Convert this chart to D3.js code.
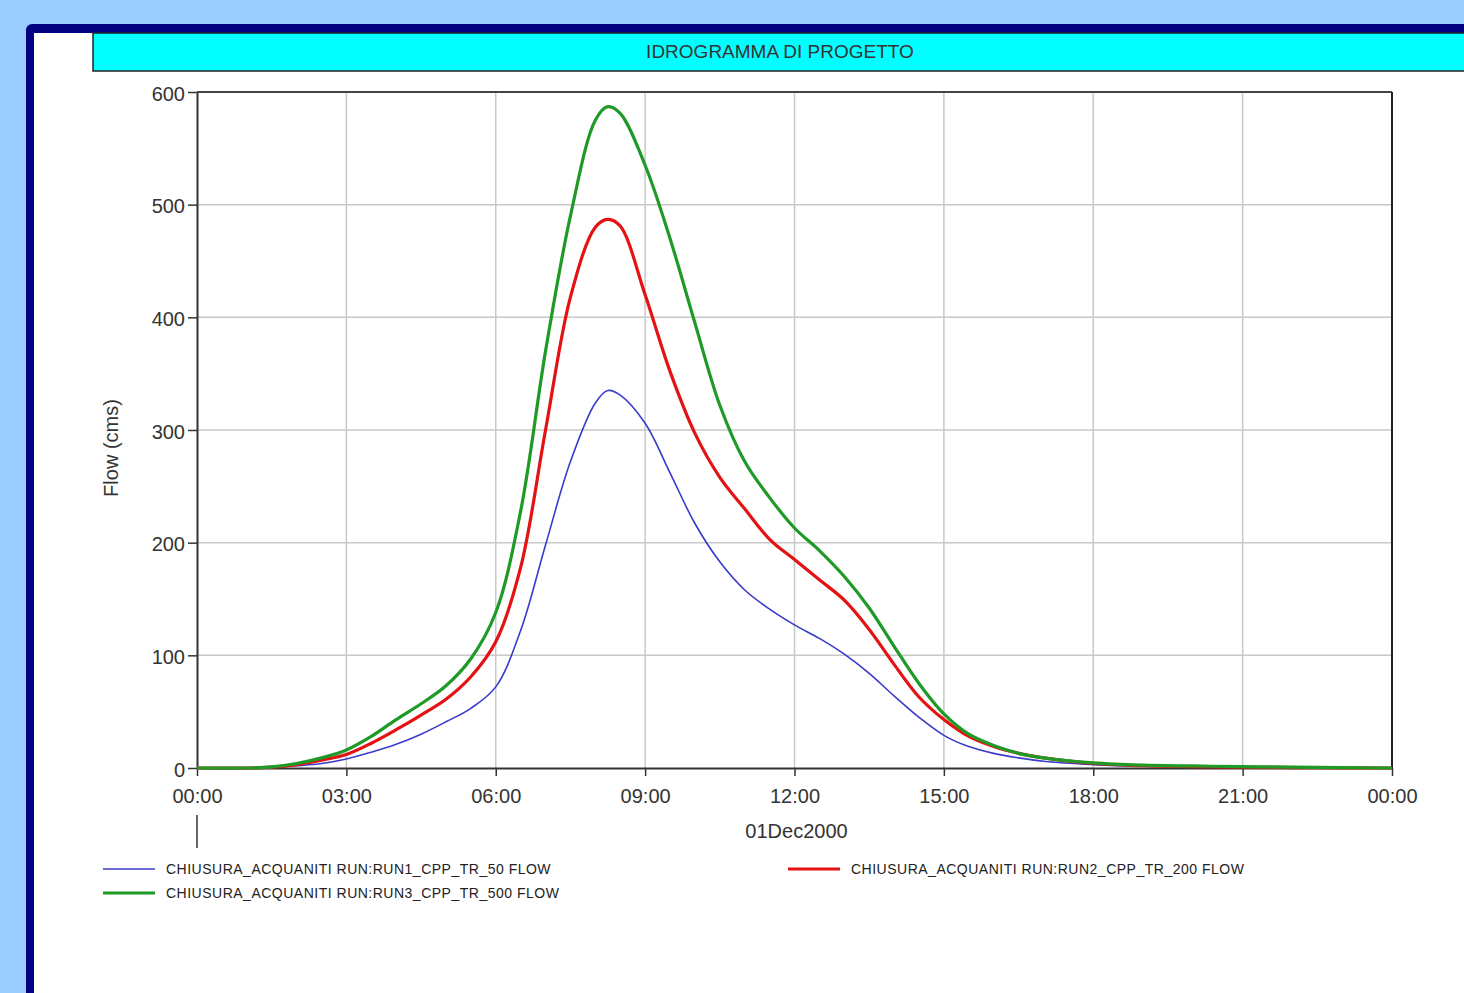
<!DOCTYPE html>
<html>
<head>
<meta charset="utf-8">
<script src="https://cdn.jsdelivr.net/npm/d3@7"></script>
<style>
  html, body { margin: 0; padding: 0; background: #99ccff; }
  svg { display: block; }
  text { font-family: "Liberation Sans", Arial, sans-serif; fill: #333; }
  .tick text { font-size: 20px; }
  .legend text { font-size: 14px; fill: #222; letter-spacing: 0.5px; }
</style>
</head>
<body>
<svg id="chart"></svg>
<script>
// hours since 01Dec2000 00:00
const hours = [0, 1, 1.5, 2, 2.5, 3, 3.5, 4, 4.5, 5, 5.5, 6, 6.5, 7, 7.5, 8, 8.25, 8.5, 9, 9.5,
  10, 10.5, 11, 11.5, 12, 12.5, 13, 13.5, 14, 14.5, 15, 15.5, 16, 16.5, 17, 18, 19, 20, 21, 22, 23, 24];

const run1 = [0, 0, 0.5, 2, 4, 8, 14, 21, 30, 41, 53, 72, 122, 198, 272, 324, 335, 331, 306, 262,
  217, 183, 158, 141, 127, 115, 101, 84, 64, 45, 29, 19, 13, 9, 6, 3, 1.5, 1, 0.6, 0.3, 0.1, 0];

const run2 = [0, 0, 0.8, 3, 7, 12, 22, 34, 47, 61, 81, 112, 178, 300, 418, 480, 487, 481, 420, 352,
  297, 258, 230, 203, 185, 167, 149, 123, 92, 63, 43, 28, 19, 13, 9, 4, 2, 1.2, 0.7, 0.4, 0.2, 0];

const run3 = [0, 0, 1, 4, 9, 16, 28, 43, 57, 73, 97, 138, 228, 370, 490, 575, 587, 581, 535, 470,
  395, 322, 272, 240, 213, 193, 170, 142, 108, 75, 48, 30, 20, 13, 9, 4.5, 2.5, 1.8, 1.2, 0.8, 0.4, 0];

const seriesNames = [
  "CHIUSURA_ACQUANITI RUN:RUN1_CPP_TR_50 FLOW",
  "CHIUSURA_ACQUANITI RUN:RUN2_CPP_TR_200 FLOW",
  "CHIUSURA_ACQUANITI RUN:RUN3_CPP_TR_500 FLOW"
];
const yTicks = [0, 100, 200, 300, 400, 500, 600];
const xTickHours = [0, 3, 6, 9, 12, 15, 18, 21, 24];

const W = 1464, H = 993;
const svg = d3.select("#chart").attr("width", W).attr("height", H);

// blue page background + navy frame + white panel
svg.append("rect").attr("width", W).attr("height", H).attr("fill", "#99ccff");
svg.append("rect").attr("x", 26).attr("y", 24).attr("width", W).attr("height", H)
  .attr("rx", 6).attr("fill", "#000080");
svg.append("rect").attr("x", 34).attr("y", 33).attr("width", W).attr("height", H)
  .attr("fill", "#fff");

// title bar
svg.append("rect").attr("x", 93).attr("y", 33).attr("width", W).attr("height", 38)
  .attr("fill", "#00ffff").attr("stroke", "#222").attr("stroke-width", 1.5);
svg.append("text").attr("x", 780).attr("y", 58).attr("text-anchor", "middle")
  .style("font-size", "19px").style("fill", "#333").text("IDROGRAMMA DI PROGETTO");

const margin = { top: 92, left: 197, right: W - 1392, bottom: H - 768 };
const plotW = W - margin.left - margin.right;
const plotH = H - margin.top - margin.bottom;

const t0 = Date.UTC(2000, 11, 1);
const toDate = h => new Date(t0 + h * 3600e3);

const x = d3.scaleUtc().domain([toDate(0), toDate(24)]).range([0, plotW]);
const y = d3.scaleLinear().domain([0, 600]).range([plotH, 0]);

const g = svg.append("g").attr("transform", `translate(${margin.left},${margin.top})`);

// grid
g.append("g").selectAll("line").data(yTicks.slice(1)).join("line")
  .attr("x1", 0).attr("x2", plotW).attr("y1", d => y(d)).attr("y2", d => y(d))
  .attr("stroke", "#c8c8c8").attr("stroke-width", 1.5);
g.append("g").selectAll("line").data(xTickHours.slice(1, -1)).join("line")
  .attr("x1", d => x(toDate(d))).attr("x2", d => x(toDate(d)))
  .attr("y1", 0).attr("y2", plotH)
  .attr("stroke", "#c8c8c8").attr("stroke-width", 1.5);

// axes
const xAxis = g.append("g").attr("transform", `translate(0,${plotH})`)
  .call(d3.axisBottom(x).tickValues(xTickHours.map(toDate))
    .tickFormat(d3.utcFormat("%H:%M")).tickSizeInner(8).tickSizeOuter(0).tickPadding(13))
  .call(a => a.select(".domain").attr("stroke", "#333").attr("stroke-width", 2));
xAxis.selectAll(".tick line").attr("stroke", "#333").attr("stroke-width", 1.5);

const yAxis = g.append("g")
  .call(d3.axisLeft(y).tickValues(yTicks).tickSizeInner(9).tickSizeOuter(0).tickPadding(3))
  .call(a => a.select(".domain").attr("stroke", "#333").attr("stroke-width", 2));
yAxis.selectAll(".tick line").attr("stroke", "#333").attr("stroke-width", 1.5);
yAxis.selectAll(".tick text").attr("dy", "0.4em");

// top and right border
g.append("line").attr("x1", 0).attr("x2", plotW).attr("y1", 0).attr("y2", 0)
  .attr("stroke", "#444").attr("stroke-width", 2);
g.append("line").attr("x1", plotW).attr("x2", plotW).attr("y1", 0).attr("y2", plotH)
  .attr("stroke", "#222").attr("stroke-width", 2);

// day separator and date label
g.append("line").attr("x1", x(toDate(0))).attr("x2", x(toDate(0)))
  .attr("y1", plotH + 47).attr("y2", plotH + 80).attr("stroke", "#333").attr("stroke-width", 1.5);
g.append("text").attr("x", x(toDate(12)) + 2).attr("y", plotH + 70).attr("text-anchor", "middle")
  .style("font-size", "20px").text("01Dec2000");

// y label
svg.append("text").attr("transform", "translate(118,448) rotate(-90)")
  .attr("text-anchor", "middle").style("font-size", "20px").text("Flow (cms)");

// series
const series = [
  { name: seriesNames[0], values: run1, color: "#3a3acc", width: 1.6 },
  { name: seriesNames[1], values: run2, color: "#e41212", width: 3.2 },
  { name: seriesNames[2], values: run3, color: "#1f9a26", width: 3.2 }
];

const line = d3.line()
  .x((d, i) => x(toDate(hours[i])))
  .y(d => y(d))
  .curve(d3.curveCatmullRom.alpha(0.5));

g.append("g").selectAll("path").data(series).join("path")
  .attr("d", s => line(s.values))
  .attr("fill", "none")
  .attr("stroke", s => s.color)
  .attr("stroke-width", s => s.width)
  .attr("stroke-linejoin", "round");

// legend
const legendPos = [
  { x: 103, y: 869 },
  { x: 788, y: 869 },
  { x: 103, y: 893 }
];
const legend = svg.append("g").attr("class", "legend");
const item = legend.selectAll("g").data(series).join("g")
  .attr("transform", (s, i) => `translate(${legendPos[i].x},${legendPos[i].y})`);
item.append("line").attr("x1", 0).attr("x2", 52)
  .attr("stroke", s => s.color).attr("stroke-width", s => s.width);
item.append("text").attr("x", 63).attr("y", 5).text(s => s.name);
</script>
</body>
</html>
